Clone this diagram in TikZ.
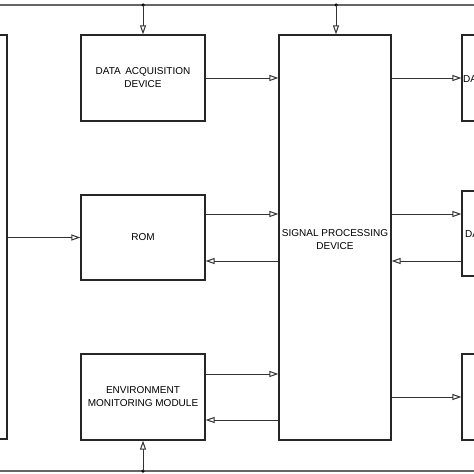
\documentclass[tikz,border=0pt]{standalone}
\usepackage{fontspec}
\setmainfont{Liberation Sans}
\usetikzlibrary{arrows.meta}
\begin{document}
\begin{tikzpicture}[x=1pt,y=-1pt,
  lbl/.style={font=\fontsize{10}{13}\selectfont},
  blk/.style={draw=black!85,line width=1.2pt,inner sep=0pt,align=center,lbl},
  con/.style={draw=black!80,line width=1pt},
  arr/.style={con,-{Triangle[open,length=9pt,width=6pt]}},
  bus/.style={draw=black!60,line width=1.3pt},
  dot/.style={circle,fill=black,inner sep=0pt,minimum size=3.5pt}]
\useasboundingbox (0,0) rectangle (474,474);
\clip (0,0) rectangle (474,474);
\fill[white] (0,0) rectangle (474,474);
% boxes
\node[blk,minimum width=114pt,minimum height=404pt] (lbox) at (-50,237) {};
\node[blk,minimum width=124pt,minimum height=86pt] (daq) at (143,78) {DATA\, ACQUISITION\\DEVICE};
\node[blk,minimum width=124pt,minimum height=85pt] (rom) at (143,237.5) {ROM};
\node[blk,minimum width=124pt,minimum height=86pt] (emm) at (143,397) {ENVIRONMENT\\MONITORING MODULE};
\node[blk,minimum width=112pt,minimum height=405pt] (spd) at (335,237.5) {};
\node[lbl,align=center] (spdt) at (335,240) {SIGNAL PROCESSING\\DEVICE};
\node[blk,minimum width=100pt,minimum height=86pt] (r1) at (512,78) {};
\node[blk,minimum width=100pt,minimum height=85pt] (r2) at (512,233.5) {};
\node[blk,minimum width=100pt,minimum height=86pt] (r3) at (512,397) {};
\node[lbl,anchor=west,inner sep=0pt] (r1t) at (463,79) {DA};
\node[lbl,anchor=west,inner sep=0pt] (r2t) at (465,234) {DA};
% buses
\coordinate (tl) at (0,5);
\coordinate (tr) at (474,5);
\coordinate (bl) at (0,471);
\coordinate (br) at (474,471);
\draw[bus] (tl) -- (tr);
\draw[bus] (bl) -- (br);
\node[dot] (d1) at (143,5) {};
\node[dot] (d2) at (336,5) {};
\node[dot] (d3) at (143,471) {};
\draw[arr] (d1.center) -- (daq.north);
\draw[arr] (d2.center) -- (d2.center |- spd.north);
\draw[arr] (d3.center) -- (emm.south);
% connectors
\coordinate (y214) at (0,214);
\coordinate (y261) at (0,261);
\coordinate (y374) at (0,374);
\coordinate (y420) at (0,420);
\coordinate (y397) at (0,397);
\draw[arr] (lbox.east |- rom.west) -- (rom.west);
\draw[arr] (daq.east) -- (daq.east -| spd.west);
\draw[arr] (rom.east |- y214) -- (spd.west |- y214);
\draw[arr] (spd.west |- y261) -- (rom.east |- y261);
\draw[arr] (emm.east |- y374) -- (spd.west |- y374);
\draw[arr] (spd.west |- y420) -- (emm.east |- y420);
\draw[arr] (spd.east |- r1.west) -- (r1.west);
\draw[arr] (spd.east |- y214) -- (r2.west |- y214);
\draw[arr] (r2.west |- y261) -- (spd.east |- y261);
\draw[arr] (spd.east |- y397) -- (r3.west |- y397);
\end{tikzpicture}
\end{document}
